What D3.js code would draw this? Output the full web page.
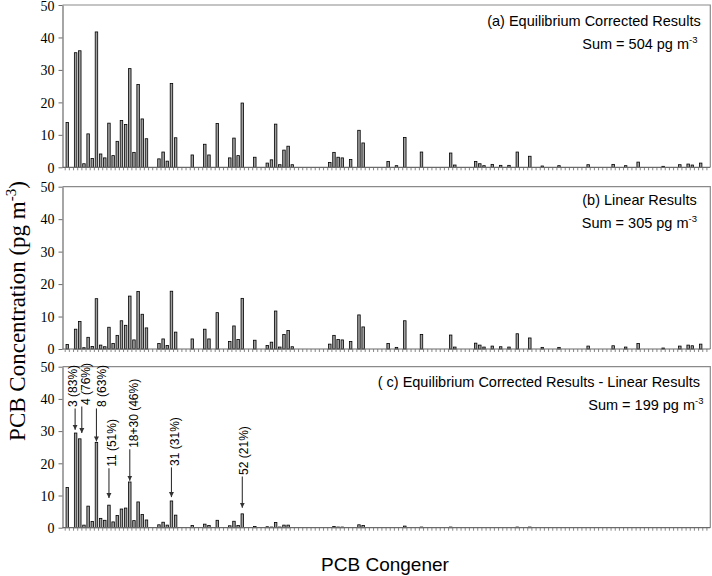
<!DOCTYPE html>
<html><head><meta charset="utf-8">
<script src="https://cdn.jsdelivr.net/npm/d3@7"></script>
<style>html,body{margin:0;padding:0;background:#fff}</style>
</head><body><svg id="chart" width="712" height="576"></svg>
<script>
// ---------------- DATA ----------------
const nCongeners = 155;
const yTicks = [0, 10, 20, 30, 40, 50];

// congener positions (category index) with non-zero values in panels (a) and (b)
const positionsAB = [0,2,3,4,5,6,7,8,9,10,11,12,13,14,15,16,17,18,19,22,23,24,25,26,30,33,34,36,39,40,41,42,45,48,49,50,51,52,53,54,63,64,65,66,68,70,71,77,79,81,85,92,93,98,99,100,102,104,106,108,111,114,118,125,131,134,137,143,147,149,150,152];
const equilibrium = [13.8,35.3,35.9,1.1,10.3,2.7,41.7,4.1,2.9,13.6,3.6,8.0,14.4,13.2,30.4,4.6,25.5,14.9,8.8,
  2.6,4.7,1.9,25.8,9.1, 3.8, 7.1,3.8, 13.5, 2.9,9.0,3.6,19.8, 3.1,
  1.3,2.3,13.3,0.8,5.3,6.5,0.8, 1.5,4.6,3.1,2.9, 2.4, 11.4,7.5, 1.8, 0.5, 9.2, 4.7, 4.4,0.7,
  1.8,1.1,0.5, 0.9, 0.6, 0.6, 4.7, 3.4, 0.4, 0.5, 0.8, 0.9, 0.5, 1.6, 0.3, 0.8, 1.0,0.7, 1.3];
const linear = [1.4,6.1,8.5,0.4,3.6,0.8,15.5,1.2,0.7,6.7,1.7,4.2,8.7,7.3,16.3,2.8,17.7,10.7,6.5,
  1.7,3.1,1.1,17.8,5.2, 3.1, 6.1,3.1, 11.2, 2.3,7.1,2.9,15.6, 2.7,
  1.1,2.1,11.7,0.6,4.5,5.7,0.7, 1.5,4.2,2.9,2.8, 2.3, 10.5,6.8, 1.7, 0.5, 8.7, 4.5, 4.3,0.6,
  1.8,1.2,0.6, 0.9, 0.7, 0.6, 4.7, 3.4, 0.5, 0.5, 0.9, 1.0, 0.6, 1.7, 0.3, 0.9, 1.2,1.0, 1.5];

const positionsC = [0,2,3,4,5,6,7,8,9,10,11,12,13,14,15,16,17,18,19,22,23,24,25,26,30,33,34,36,39,40,41,42,45,48,49,50,51,52,53,64,65,66,70,71,81,85,92,108,111];
const difference = [12.5,29.4,27.6,0.8,6.7,1.9,26.5,2.9,2.3,7.0,1.8,3.8,5.8,6.1,14.2,2.2,8.0,4.1,2.4,
  0.9,1.7,0.8,8.3,3.9, 0.7, 1.1,0.7, 2.3, 0.6,2.0,0.7,4.3, 0.4,
  0.3,0.2,1.6,0.2,0.8,0.8, 0.4,0.2,0.2, 0.9,0.7, 0.5, 0.2, 0.2, 0.2, 0.2];

const panelTitles = ["(a) Equilibrium Corrected Results", "(b) Linear Results", "( c) Equilibrium Corrected Results - Linear Results"];
const panelSums = ["Sum = 504 pg m", "Sum = 305 pg m", "Sum = 199 pg m"];

// annotations in panel (c)
const annLabels = ["3 (83%)", "4 (76%)", "8 (63%)", "11 (51%)", "18+30 (46%)", "31 (31%)", "52 (21%)"];
const annIndex = [2, 3, 7, 10, 15, 25, 42];
const annTextStart = [37.5, 38.1, 37.5, 18.9, 24.8, 19.2, 16.4]; // value where text starts
const annTip = [30.4, 29.4, 26.8, 9.2, 14.6, 9.5, 6.2];          // value at arrow tip

// ---------------- LAYOUT ----------------
const svg = d3.select("#chart");
const frameL = 62.5, frameR = 710.3;
const panels = [
  {top: 5, bottom: 167.3, titleY: 26, sumY: 49.3, titleX: 700.7, sumX: 697.5},
  {top: 186.7, bottom: 349, titleY: 204.5, sumY: 228.3, titleX: 696.7, sumX: 697},
  {top: 366.7, bottom: 527.7, titleY: 386.7, sumY: 410, titleX: 700, sumX: 703.5}
];
const step = 4.167;
const x = d3.scaleBand().domain(d3.range(nCongeners))
  .range([65.2, 65.2 + nCongeners * step]).padding(0);
const barW = 2.5;

const series = [
  {pos: positionsAB, val: equilibrium},
  {pos: positionsAB, val: linear},
  {pos: positionsC, val: difference}
];

const sansFont = "'Liberation Sans', Arial, sans-serif";
const serifFont = "'Liberation Serif', 'Times New Roman', serif";

panels.forEach((p, pi) => {
  const y = d3.scaleLinear().domain([0, 50]).range([p.bottom, p.top]);
  p.y = y;
  const g = svg.append("g");

  // bars
  const data = series[pi].pos.map((c, i) => ({c, v: series[pi].val[i]}));
  g.selectAll("rect.bar").data(data).join("rect")
    .attr("class", "bar")
    .attr("x", d => x(d.c) + x.bandwidth() / 2 - barW / 2)
    .attr("y", d => y(d.v))
    .attr("width", barW)
    .attr("height", d => Math.max(0, y(0) - y(d.v)))
    .attr("fill", "#a0a0a0")
    .attr("stroke", "#000")
    .attr("stroke-width", 0.8);

  // frame top/right
  g.append("path")
    .attr("d", `M${frameL},${p.top}H${frameR}V${p.bottom}`)
    .attr("fill", "none").attr("stroke", "#8a8a8a").attr("stroke-width", 1.2);

  // y axis
  const yAxis = d3.axisLeft(y).tickValues(yTicks).tickSize(4).tickSizeOuter(0).tickFormat(d3.format("d"));
  const ya = g.append("g").attr("transform", `translate(${frameL},0)`).call(yAxis);
  ya.select(".domain").attr("stroke", "#6a6a6a").attr("stroke-width", 1.2);
  ya.selectAll(".tick line").attr("stroke", "#6a6a6a").attr("stroke-width", 1);
  ya.selectAll(".tick text").attr("font-family", serifFont).attr("font-size", 14)
    .attr("fill", "#000").attr("x", -8).attr("dy", d => (pi === 0 && d === 50) ? "0.42em" : "0.34em");

  // x axis baseline + category ticks
  g.append("line").attr("x1", frameL).attr("x2", frameR)
    .attr("y1", y(0)).attr("y2", y(0))
    .attr("stroke", "#6a6a6a").attr("stroke-width", 1.2);
  const tickPos = d3.range(nCongeners).map(c => x(c)).filter(v => v > frameL + 1 && v < frameR - 1);
  g.selectAll("line.xt").data(tickPos).join("line")
    .attr("class", "xt")
    .attr("x1", d => d).attr("x2", d => d)
    .attr("y1", y(0)).attr("y2", y(0) + 3)
    .attr("stroke", "#6a6a6a").attr("stroke-width", 0.8);

  // titles
  g.append("text").attr("x", p.titleX).attr("y", p.titleY)
    .attr("text-anchor", "end").attr("font-family", sansFont).attr("font-size", 14.5)
    .text(panelTitles[pi]);
  const st = g.append("text").attr("x", p.sumX).attr("y", p.sumY)
    .attr("text-anchor", "end").attr("font-family", sansFont).attr("font-size", 14.5);
  st.append("tspan").text(panelSums[pi]);
  st.append("tspan").attr("dy", -6).attr("font-size", 9.5).text("-3");
});

// annotations
const yc = panels[2].y;
const defs = svg.append("defs");
defs.append("marker").attr("id", "ah").attr("viewBox", "0 0 10 10")
  .attr("refX", 10).attr("refY", 5).attr("markerWidth", 5).attr("markerHeight", 6)
  .attr("markerUnits", "userSpaceOnUse").attr("orient", "auto")
  .append("path").attr("d", "M0,0L10,5L0,10Z").attr("fill", "#333");
const textDx = [-2, 4.5, 5, 2.5, 4, 3.5, 1.5];
const arrowDx = [-0.5, 2, 0, 0, 0, 0, 0];
annLabels.forEach((lab, i) => {
  const cx = x(annIndex[i]) + x.bandwidth() / 2 + arrowDx[i];
  const y0 = yc(annTextStart[i]) + 1.5;
  svg.append("line").attr("x1", cx).attr("x2", cx)
    .attr("y1", y0).attr("y2", yc(annTip[i]))
    .attr("stroke", "#333").attr("stroke-width", 1.1)
    .attr("marker-end", "url(#ah)");
  const tx = cx + textDx[i] + 4.2;
  svg.append("text").attr("transform", `translate(${tx},${yc(annTextStart[i])}) rotate(-90)`)
    .attr("font-family", sansFont).attr("font-size", 12).attr("text-anchor", "start")
    .text(lab);
});

// axis titles
const yl = svg.append("text").attr("transform", "translate(25,311) rotate(-90)")
  .attr("text-anchor", "middle").attr("font-family", serifFont).attr("font-size", 23);
yl.append("tspan").text("PCB Concentration (pg m");
yl.append("tspan").attr("dy", -9).attr("font-size", 15).text("-3");
yl.append("tspan").attr("dy", 9).text(")");

svg.append("text").attr("x", 385).attr("y", 571).attr("text-anchor", "middle")
  .attr("font-family", sansFont).attr("font-size", 19).text("PCB Congener");
</script>
</body></html>
